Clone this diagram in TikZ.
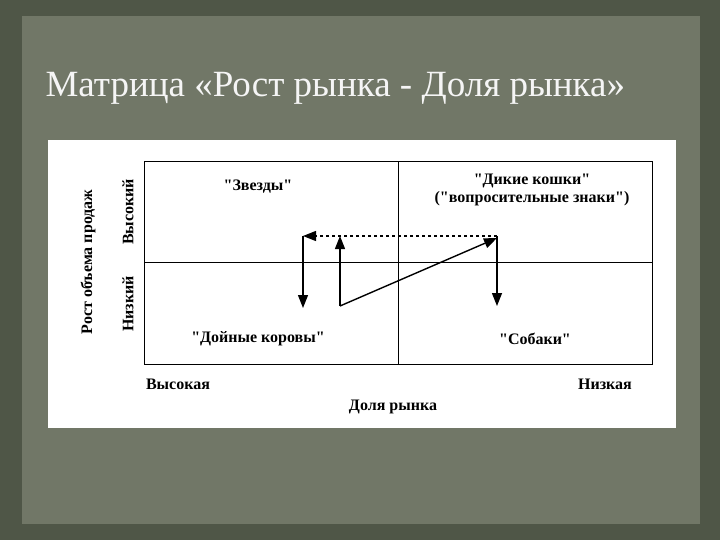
\documentclass[tikz,border=0pt]{standalone}
\usepackage{fontspec}
\setmainfont{Liberation Serif}[Ligatures=TeXOff]
\usetikzlibrary{arrows.meta}
\definecolor{outerbg}{HTML}{4F5647}
\definecolor{panel}{HTML}{717767}
\begin{document}
\begin{tikzpicture}[x=1pt,y=-1pt,
  lbl/.style={font=\fontsize{16}{18}\selectfont\bfseries, align=center, inner sep=1pt},
  ln/.style={line width=1pt},
  arr/.style={line width=1.4pt,-{Triangle[length=13pt,width=10pt]}}]
\fill[outerbg] (0,0) rectangle (720,540);
\fill[panel] (22,16) rectangle (700,524);
\useasboundingbox (0,0) rectangle (720,540);
\node[anchor=west,text=white!92!gray,font=\fontsize{37}{40}\selectfont] (title) at (42,88) {Матрица «Рост рынка - Доля рынка»};
\fill[white] (48,140) rectangle (676,428);
\draw[ln] (144,162) rectangle (652,364);
\draw[ln] (398,162) -- (398,364);
\draw[ln] (144,262) -- (652,262);
\node[lbl] (stars) at (258,187) {"Звезды"};
\node[lbl] (cats) at (532,190) {"Дикие кошки"\\("вопросительные знаки")};
\node[lbl] (cows) at (258,339) {"Дойные коровы"};
\node[lbl] (dogs) at (535,339) {"Собаки"};
\node[lbl] (hi) at (178,384) {Высокая};
\node[lbl] (lo) at (605,384) {Низкая};
\node[lbl] (share) at (393,407) {Доля рынка};
\node[lbl,rotate=90] (growth) at (88,262) {Рост объема продаж};
\node[lbl,rotate=90] (vhi) at (128,212) {Высокий};
\node[lbl,rotate=90] (vlo) at (128,304) {Низкий};
\coordinate (a) at (497,236);
\coordinate (b) at (303,236);
\coordinate (c) at (303,308);
\coordinate (d) at (340,306);
\coordinate (e) at (340,236);
\coordinate (f) at (497,238);
\coordinate (g) at (497,306);
\draw[arr,dashed] (a) -- (b);
\draw[arr] (b) -- (c);
\draw[arr] (d) -- (e);
\draw[arr] (d) -- (f);
\draw[arr] (a) -- (g);
\end{tikzpicture}
\end{document}
